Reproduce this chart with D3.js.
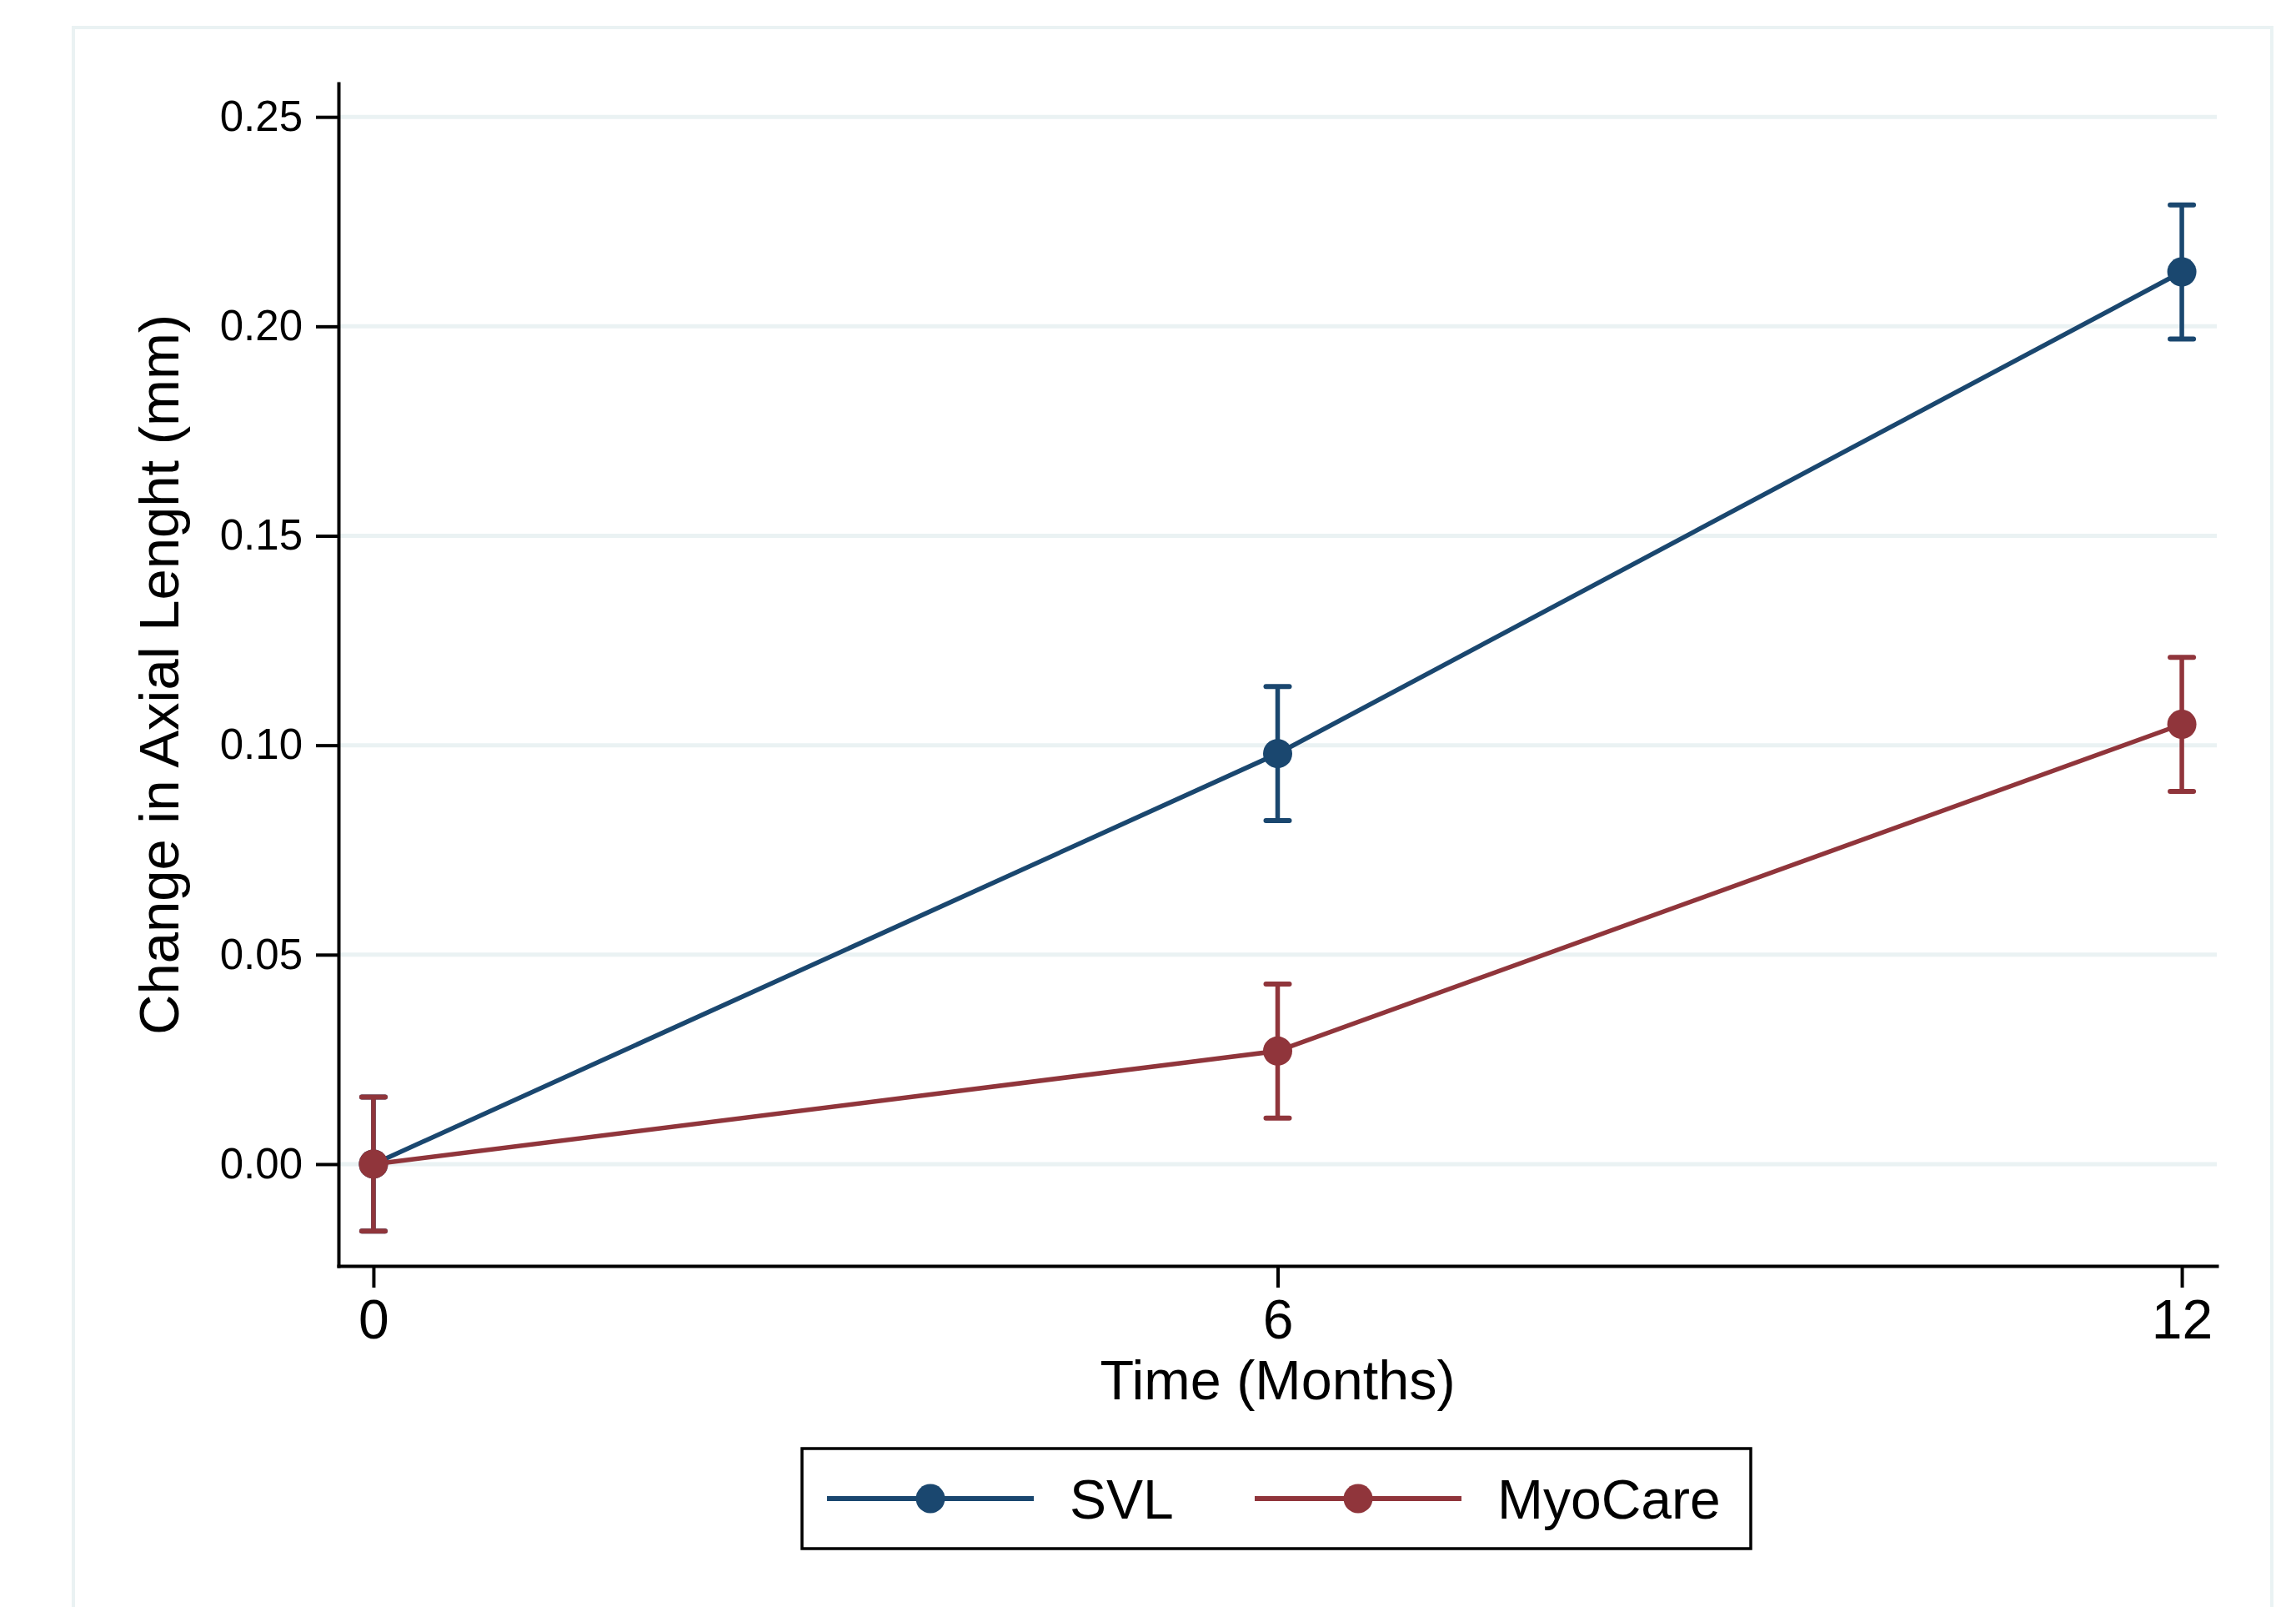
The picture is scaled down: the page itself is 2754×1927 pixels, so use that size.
<!DOCTYPE html>
<html>
<head>
<meta charset="utf-8" />
<title>Change in Axial Length</title>
<style>
  body { margin: 0; background: #fff; }
  text { font-family: "Liberation Sans", Arial, sans-serif; fill: #000; }
  .axis path, .axis line { stroke: #000; stroke-width: 4px; }
</style>
</head>
<body>
<svg id="chart" width="2754" height="1927"></svg>
<script src="https://d3js.org/d3.v7.min.js"></script>
<script>
// ---- data ----
var months = [0, 6, 12];
var yTicks = [0, 0.05, 0.10, 0.15, 0.20, 0.25];
var seriesNames = ["SVL", "MyoCare"];
var svlMean = [0, 0.098, 0.213];
var svlErr = [0.016, 0.016, 0.016];
var myoMean = [0, 0.027, 0.105];
var myoErr = [0.016, 0.016, 0.016];

var colors = { SVL: "#1a476f", MyoCare: "#90353b" };

var svg = d3.select("#chart");

// outer graph frame (light bluish gray, runs off the bottom)
svg.append("rect")
  .attr("x", 88).attr("y", 33)
  .attr("width", 2637).attr("height", 2000)
  .attr("fill", "none")
  .attr("stroke", "#eaf2f3")
  .attr("stroke-width", 4);

var x = d3.scaleLinear().domain([-0.232, 12.232]).range([406, 2659]),
    y = d3.scaleLinear().domain([-0.0243, 0.258]).range([1518, 100]);

// gridlines
svg.append("g").selectAll("line").data(yTicks).enter()
  .append("line")
  .attr("x1", x.range()[0]).attr("x2", x.range()[1])
  .attr("y1", function(d) { return y(d); })
  .attr("y2", function(d) { return y(d); })
  .attr("stroke", "#eaf2f3")
  .attr("stroke-width", 5);

// axes
var yAxis = svg.append("g")
  .attr("class", "axis")
  .attr("transform", "translate(" + x.range()[0] + ",0)")
  .call(d3.axisLeft(y).tickValues(yTicks).tickFormat(d3.format(".2f"))
    .tickSize(27).tickSizeOuter(0).tickPadding(16));
yAxis.selectAll("text").style("font-size", "51px");

var xAxis = svg.append("g")
  .attr("class", "axis")
  .attr("transform", "translate(0," + y.range()[0] + ")")
  .call(d3.axisBottom(x).tickValues(months).tickFormat(d3.format("d"))
    .tickSize(26).tickSizeOuter(0).tickPadding(14));
xAxis.selectAll("text").style("font-size", "66px");
svg.selectAll(".axis path").attr("stroke-linecap", "square");

// axis titles
svg.append("text")
  .attr("x", (x.range()[0] + x.range()[1]) / 2)
  .attr("y", 1678)
  .attr("text-anchor", "middle")
  .style("font-size", "66.5px")
  .text("Time (Months)");

svg.append("text")
  .attr("transform", "translate(214," + (y.range()[0] + y.range()[1]) / 2 + ") rotate(-90)")
  .attr("text-anchor", "middle")
  .style("font-size", "67px")
  .text("Change in Axial Lenght (mm)");

// series
var series = [
  { id: "SVL", mean: svlMean, err: svlErr },
  { id: "MyoCare", mean: myoMean, err: myoErr }
];

var line = d3.line()
  .x(function(d) { return x(d.t); })
  .y(function(d) { return y(d.v); });

series.forEach(function(s) {
  var pts = months.map(function(t, i) { return { t: t, v: s.mean[i], e: s.err[i] }; });
  var g = svg.append("g");
  var col = colors[s.id];

  g.append("path")
    .attr("d", line(pts))
    .attr("fill", "none")
    .attr("stroke", col)
    .attr("stroke-width", 5.5);

  var eb = g.selectAll(".eb").data(pts).enter().append("g").attr("class", "eb");
  eb.append("line")
    .attr("x1", function(d) { return x(d.t); })
    .attr("x2", function(d) { return x(d.t); })
    .attr("y1", function(d) { return y(d.v - d.e); })
    .attr("y2", function(d) { return y(d.v + d.e); })
    .attr("stroke", col).attr("stroke-width", 5.5);
  [-1, 1].forEach(function(sg) {
    eb.append("line")
      .attr("x1", function(d) { return x(d.t) - 14; })
      .attr("x2", function(d) { return x(d.t) + 14; })
      .attr("y1", function(d) { return y(d.v + sg * d.e); })
      .attr("y2", function(d) { return y(d.v + sg * d.e); })
      .attr("stroke", col).attr("stroke-width", 6)
      .attr("stroke-linecap", "round");
  });

  g.selectAll("circle").data(pts).enter().append("circle")
    .attr("cx", function(d) { return x(d.t); })
    .attr("cy", function(d) { return y(d.v); })
    .attr("r", 17.5)
    .attr("fill", col);
});

// legend
var legend = svg.append("g");
legend.append("rect")
  .attr("x", 962).attr("y", 1737)
  .attr("width", 1138).attr("height", 120)
  .attr("fill", "#fff")
  .attr("stroke", "#000")
  .attr("stroke-width", 3.5);

var itemX = [992, 1505];
var legItem = legend.selectAll(".li").data(seriesNames).enter()
  .append("g").attr("class", "li")
  .attr("transform", function(d, i) { return "translate(" + itemX[i] + ",1797)"; });
legItem.append("line")
  .attr("x1", 0).attr("x2", 248)
  .attr("stroke", function(d) { return colors[d]; })
  .attr("stroke-width", 6);
legItem.append("circle")
  .attr("cx", 124).attr("r", 17.5)
  .attr("fill", function(d) { return colors[d]; });
legItem.append("text")
  .attr("x", 291).attr("y", 24)
  .style("font-size", "66px")
  .text(function(d) { return d; });
</script>
</body>
</html>
